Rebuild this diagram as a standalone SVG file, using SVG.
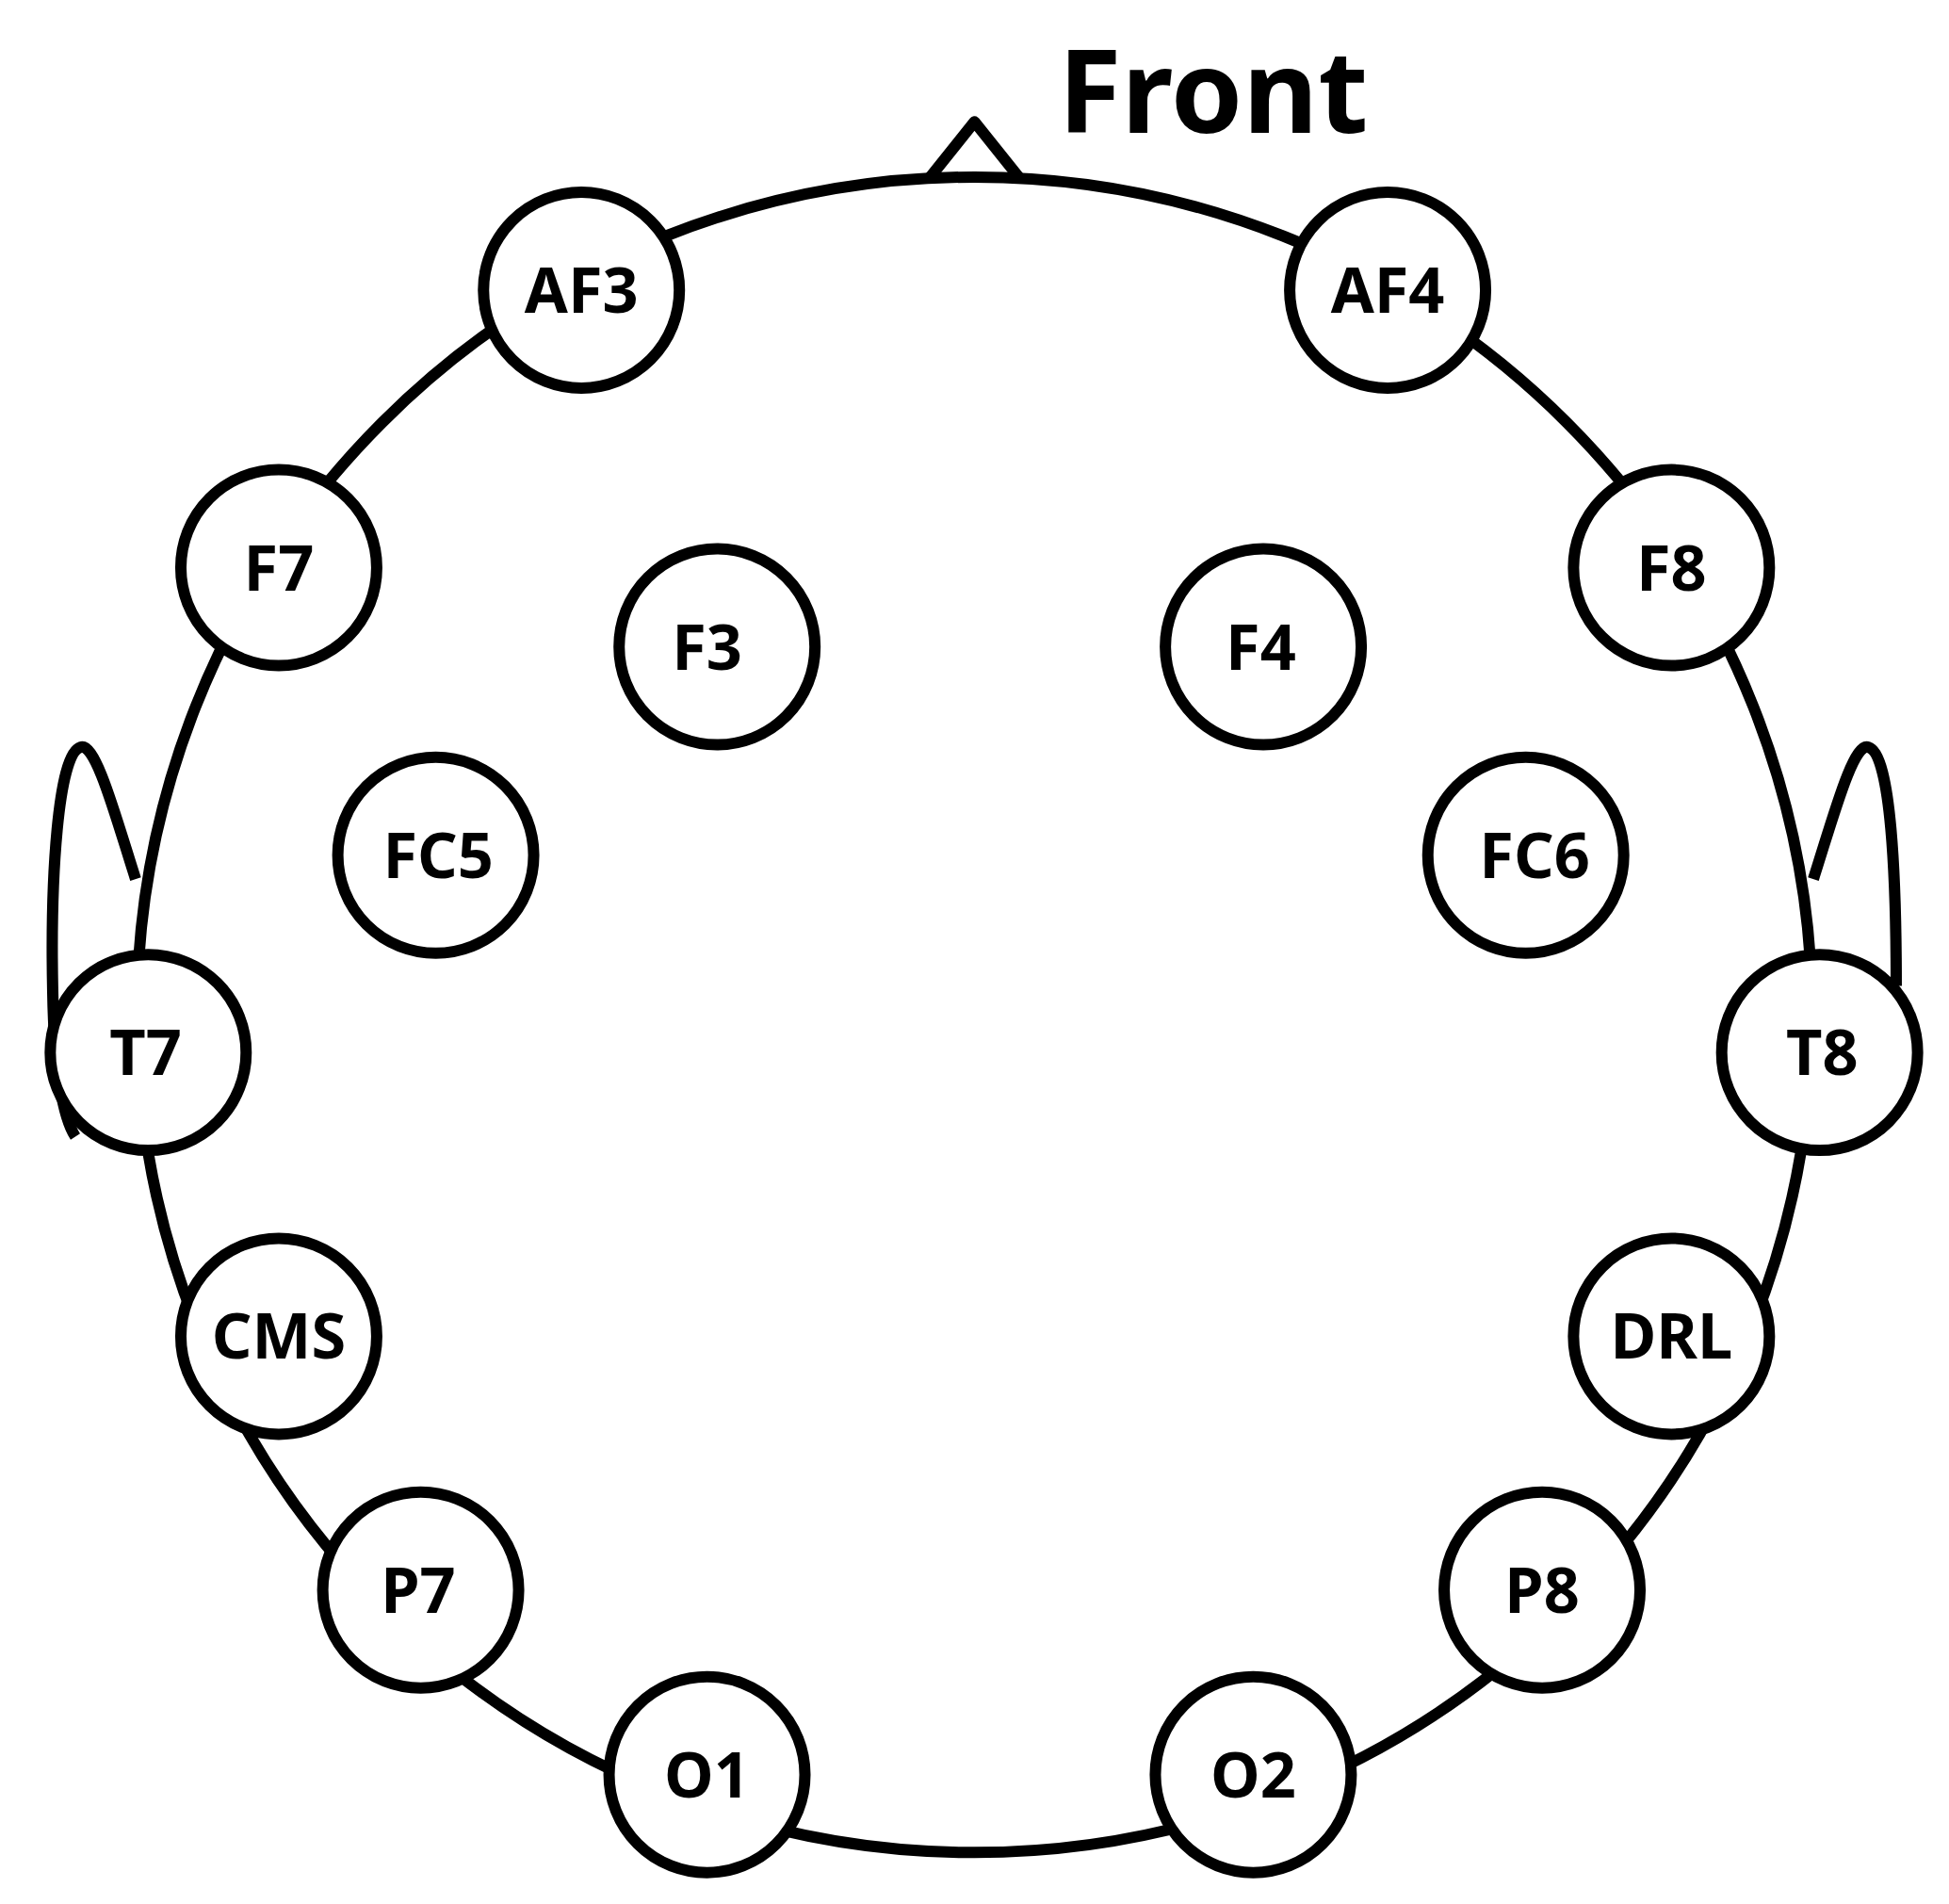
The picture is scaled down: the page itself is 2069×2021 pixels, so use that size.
<svg xmlns="http://www.w3.org/2000/svg" width="2069" height="2021" viewBox="0 0 2069 2021">
<style>
.l{fill:none;stroke:#000;stroke-width:9;stroke-linejoin:round}
.n circle{fill:#fff;stroke:#000;stroke-width:9}
.n text{font-family:"Noto Sans","DejaVu Sans",sans-serif;font-weight:bold;font-size:50px;text-anchor:middle;fill:#000}
</style>
<rect width="2069" height="2021" fill="#fff"/>
<g transform="scale(1.3331)">
<g id="connectors">
<circle class="l" cx="776" cy="808" r="667"/>
<polyline class="l" points="740,142 776,97 812,142"/>
<path class="l" d="M108,700 C92,650 76,590 64,595 C46,600 40,700 42,790 C43,850 50,890 60,905"/>
<path class="l" d="M1444,700 C1460,650 1476,590 1488,595 C1506,600 1510,700 1510,785"/>
</g>
<text x="966" y="106" style="font-family:'Noto Sans','DejaVu Sans',sans-serif;font-weight:bold;font-size:92px;text-anchor:middle">Front</text>
<g id="AF3" class="n"><circle cx="463" cy="231" r="78"/><text x="463" y="249">AF3</text></g>
<g id="AF4" class="n"><circle cx="1105" cy="231" r="78"/><text x="1105" y="249">AF4</text></g>
<g id="F7" class="n"><circle cx="222" cy="452" r="78"/><text x="222" y="470">F7</text></g>
<g id="F8" class="n"><circle cx="1331" cy="452" r="78"/><text x="1331" y="470">F8</text></g>
<g id="F3" class="n"><circle cx="571" cy="515" r="78"/><text x="563" y="533">F3</text></g>
<g id="F4" class="n"><circle cx="1006" cy="515" r="78"/><text x="1004" y="533">F4</text></g>
<g id="FC5" class="n"><circle cx="347" cy="681" r="78"/><text x="349" y="699">FC5</text></g>
<g id="FC6" class="n"><circle cx="1215" cy="681" r="78"/><text x="1222" y="699">FC6</text></g>
<g id="T7" class="n"><circle cx="118" cy="838" r="78"/><text x="116" y="856">T7</text></g>
<g id="T8" class="n"><circle cx="1449" cy="838" r="78"/><text x="1451" y="856">T8</text></g>
<g id="CMS" class="n"><circle cx="222" cy="1064" r="78"/><text x="222" y="1082">CMS</text></g>
<g id="DRL" class="n"><circle cx="1331" cy="1064" r="78"/><text x="1331" y="1082">DRL</text></g>
<g id="P7" class="n"><circle cx="335" cy="1266" r="78"/><text x="333" y="1284">P7</text></g>
<g id="P8" class="n"><circle cx="1228" cy="1266" r="78"/><text x="1228" y="1284">P8</text></g>
<g id="O1" class="n"><circle cx="563" cy="1413" r="78"/><text x="563" y="1431">O1</text></g>
<g id="O2" class="n"><circle cx="998" cy="1413" r="78"/><text x="998" y="1431">O2</text></g>
</g>
</svg>
